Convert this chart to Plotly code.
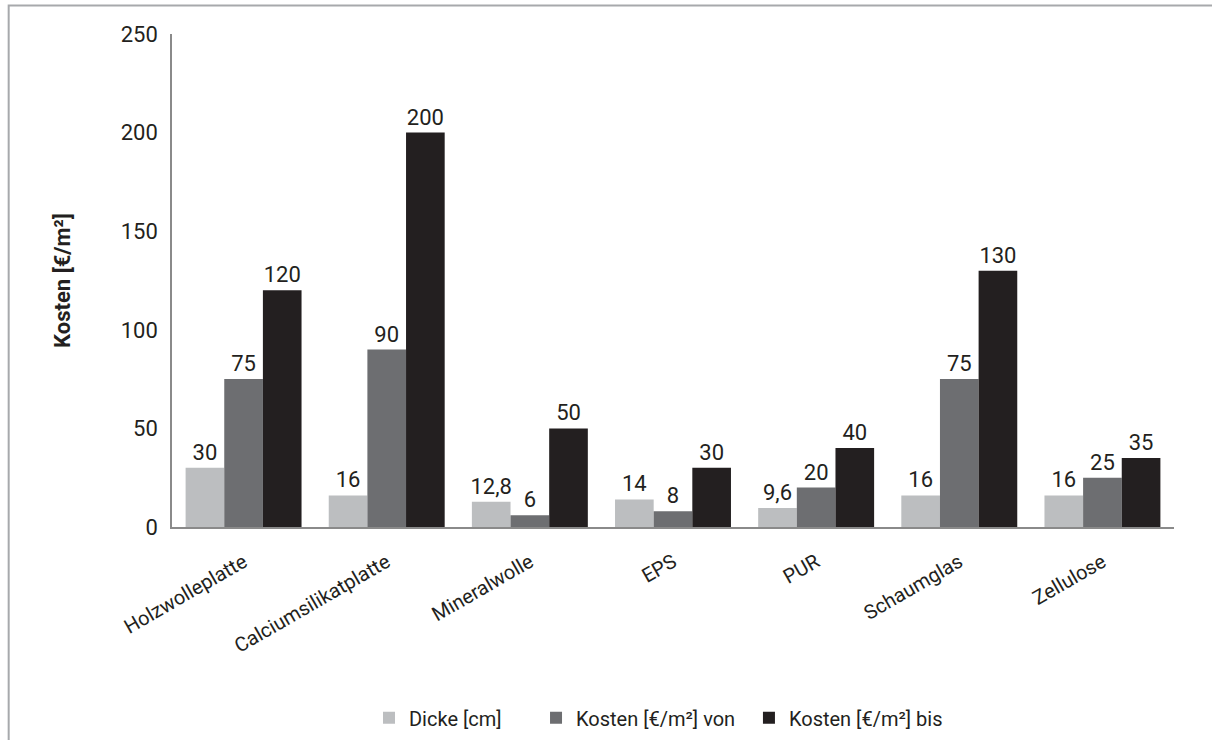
import plotly.graph_objects as go

# Dämmstoffe: Dicke und Kostenspanne
materials = ["Holzwolleplatte", "Calciumsilikatplatte", "Mineralwolle", "EPS",
             "PUR", "Schaumglas", "Zellulose"]
dicke_cm = [30, 16, 12.8, 14, 9.6, 16, 16]
kosten_von = [75, 90, 6, 8, 20, 75, 25]
kosten_bis = [120, 200, 50, 30, 40, 130, 35]
y_ticks = [0, 50, 100, 150, 200, 250]

series = [
    ("Dicke [cm]", dicke_cm, "#bcbec0", "legend", 0.1966),
    ("Kosten [€/m²] von", kosten_von, "#6d6e71", "legend2", 0.3633),
    ("Kosten [€/m²] bis", kosten_bis, "#231f20", "legend3", 0.5758),
]

FONT = "Roboto, Liberation Sans, sans-serif"
TEXT = "#231f20"


def fmt(v):
    # German decimal comma
    return f"{v:g}".replace(".", ",")


fig = go.Figure()
legend_layouts = {}
for name, vals, color, legend_id, lx in series:
    fig.add_trace(go.Bar(
        x=materials, y=vals, name=name, legend=legend_id,
        marker=dict(color=color, line=dict(width=0)),
        text=[fmt(v) for v in vals],
        textposition="outside",
        constraintext="none",
        textfont=dict(family=FONT, size=22, color=TEXT),
        cliponaxis=False,
    ))
    legend_layouts[legend_id] = dict(
        orientation="h", x=lx, xanchor="left", y=-0.387, yanchor="middle",
        font=dict(family=FONT, size=20, color=TEXT),
        bgcolor="rgba(0,0,0,0)",
    )

fig.update_layout(
    width=1212, height=740,
    barmode="group", bargap=0.19, bargroupgap=0,
    plot_bgcolor="white", paper_bgcolor="white",
    margin=dict(l=172, r=38, t=34, b=213, autoexpand=False),
    font=dict(family=FONT, size=22, color=TEXT),
    showlegend=True,
    shapes=[dict(
        type="rect", xref="paper", yref="paper",
        x0=-0.163, x1=1.2, y0=-1.0, y1=1.058,
        line=dict(color="#a7a9ac", width=2), fillcolor="rgba(0,0,0,0)",
        layer="below",
    )],
    **legend_layouts,
)

fig.update_xaxes(
    showline=True, linecolor="#8a8a8a", linewidth=1.5, automargin=False,
    ticks="", tickangle=-30, showgrid=False, ticklabelstandoff=14,
    tickfont=dict(family=FONT, size=20, color=TEXT),
)
fig.update_yaxes(
    range=[0, 250], tickvals=y_ticks, ticktext=[str(t) for t in y_ticks],
    showline=True, linecolor="#8a8a8a", linewidth=1.5, automargin=False,
    ticks="", showgrid=False, zeroline=False, ticklabelstandoff=8,
    tickfont=dict(family=FONT, size=22, color=TEXT),
    title=dict(text="<b>Kosten [€/m²]</b>", standoff=44,
               font=dict(family=FONT, size=22, color=TEXT)),
)

fig.write_html("out.html")
